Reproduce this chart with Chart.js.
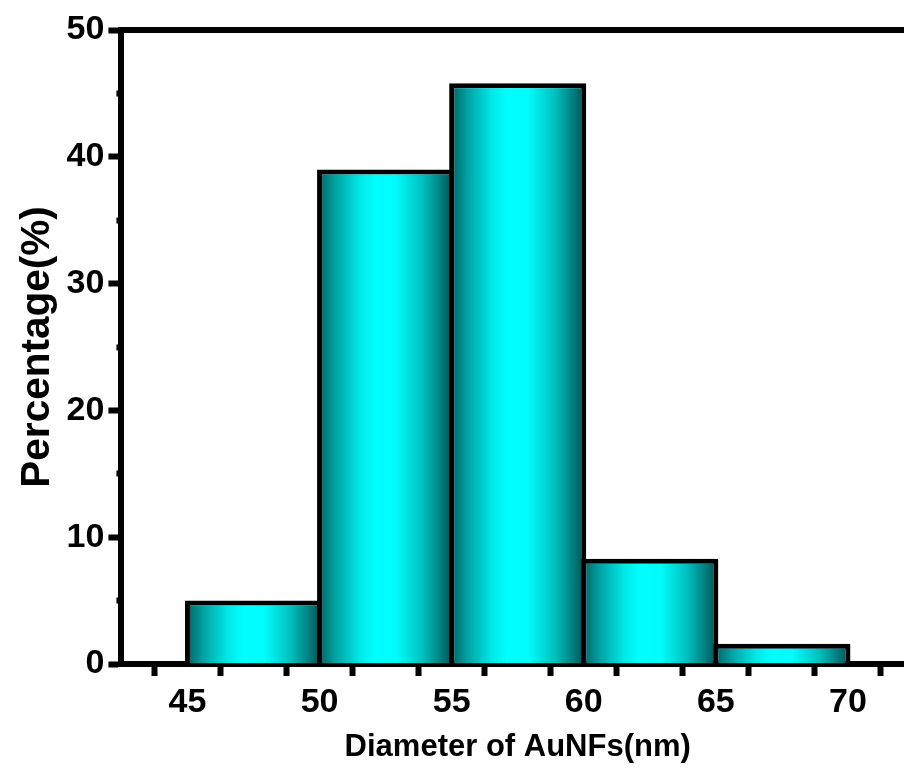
<!DOCTYPE html>
<html>
<head>
<meta charset="utf-8">
<title>AuNFs diameter distribution</title>
<script src="https://cdn.jsdelivr.net/npm/chart.js@4.4.1/dist/chart.umd.min.js"></script>
<style>
  html, body { margin: 0; padding: 0; background: #fff; overflow: hidden; }
  #wrap { width: 920px; height: 781px; }
</style>
</head>
<body>
<div id="wrap"><canvas id="histChart"></canvas></div>
<script>
// histogram bins (nm) and share of particles in each bin (%)
const binStarts = [45, 50, 55, 60, 65];
const binWidth = 5;
const percentages = [5.0, 39.0, 45.8, 8.3, 1.6];

// labelled ticks; the ones in between are minor
const xTickLabels = [45, 50, 55, 60, 65, 70];
const yTickLabels = [0, 10, 20, 30, 40, 50];

const FONT = "'Liberation Sans', Arial, sans-serif";

// bar fill: dark teal at the sides, bright cyan in the middle
function barGradient(context) {
  const chart = context.chart;
  const xScale = chart.scales.x;
  if (!xScale || !chart.chartArea) return "#00e5e5";
  const i = context.dataIndex;
  const x0 = xScale.getPixelForValue(binStarts[i]);
  const x1 = xScale.getPixelForValue(binStarts[i] + binWidth);
  const g = chart.ctx.createLinearGradient(x0, 0, x1, 0);
  g.addColorStop(0, "#006666");
  g.addColorStop(0.12, "#00a2a2");
  g.addColorStop(0.3, "#00e6e6");
  g.addColorStop(0.42, "#00ffff");
  g.addColorStop(0.58, "#00fcfc");
  g.addColorStop(0.78, "#00c0c0");
  g.addColorStop(0.92, "#007e7e");
  g.addColorStop(1, "#005454");
  return g;
}

// top frame line of the plot box
const topFrame = {
  id: "topFrame",
  afterDraw(chart) {
    const { ctx, chartArea } = chart;
    ctx.save();
    ctx.strokeStyle = "#000";
    ctx.lineWidth = 6;
    ctx.beginPath();
    ctx.moveTo(chartArea.left - 3, chartArea.top);
    ctx.lineTo(chart.width, chartArea.top);
    ctx.stroke();
    ctx.restore();
  }
};

const ctx = document.getElementById("histChart").getContext("2d");
new Chart(ctx, {
  type: "bar",
  data: {
    datasets: [{
      label: "Percentage",
      data: binStarts.map((s, i) => ({ x: s + binWidth / 2, y: percentages[i] })),
      backgroundColor: barGradient,
      borderColor: "#000",
      borderWidth: 5,
      borderSkipped: "bottom",
      // bar spacing is measured against the 2.5 nm tick step, so a bin spans two of them;
      // the small surplus lets neighbouring borders overlap into one line
      barPercentage: 2.076,
      categoryPercentage: 1
    }]
  },
  options: {
    responsive: true,
    maintainAspectRatio: false,
    animation: false,
    layout: { padding: { top: 30, left: 8, right: 3, bottom: 15 } },
    plugins: { legend: { display: false }, tooltip: { enabled: false } },
    scales: {
      x: {
        type: "linear",
        min: 42.5,
        max: 72.5,
        offset: false,
        grid: {
          drawOnChartArea: false,
          drawTicks: true,
          tickLength: 12,
          tickWidth: 6,
          tickColor: "#000"
        },
        border: { display: true, color: "#000", width: 6 },
        ticks: {
          stepSize: 2.5,
          autoSkip: false,
          maxRotation: 0,
          color: "#000",
          padding: 6,
          font: { family: FONT, size: 34, weight: "bold" },
          callback: v => xTickLabels.includes(v) ? String(v) : ""
        },
        title: {
          display: true,
          text: "Diameter of AuNFs(nm)",
          color: "#000",
          padding: { top: 0, bottom: 0 },
          font: { family: FONT, size: 31, weight: "bold" }
        }
      },
      y: {
        min: 0,
        max: 50,
        grid: {
          drawOnChartArea: false,
          drawTicks: true,
          tickLength: 13,
          tickWidth: 6,
          tickColor: "#000",
          // minor ticks only show their inner part
          tickBorderDash: c => yTickLabels.includes(c.tick && c.tick.value) ? [] : [0, 8, 5, 100]
        },
        border: { display: true, color: "#000", width: 6 },
        ticks: {
          stepSize: 5,
          autoSkip: false,
          color: "#000",
          padding: 4,
          font: { family: FONT, size: 34, weight: "bold" },
          callback: v => yTickLabels.includes(v) ? String(v) : ""
        },
        title: {
          display: true,
          text: "Percentage(%)",
          color: "#000",
          padding: { top: 6, bottom: 0 },
          font: { family: FONT, size: 40.5, weight: "bold" }
        }
      }
    }
  },
  plugins: [topFrame]
});
</script>
</body>
</html>
